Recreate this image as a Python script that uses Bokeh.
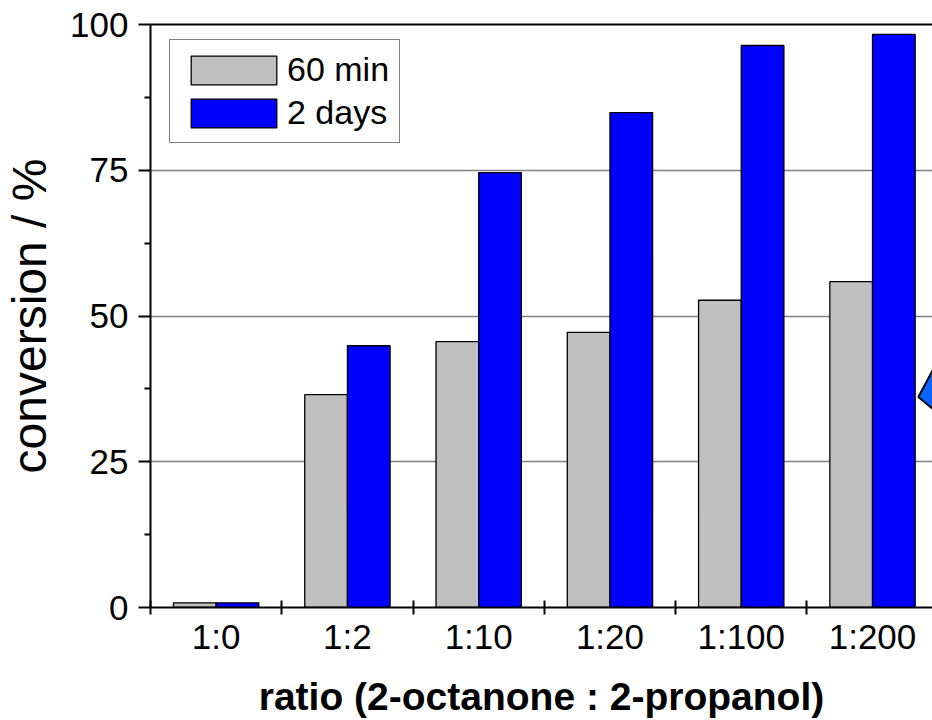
import numpy as np
from bokeh.plotting import figure
from bokeh.models import Range1d, FixedTicker, LinearAxis, Legend, LegendItem, Grid
from bokeh.embed import file_html
from bokeh.resources import INLINE

# ---- data ----
categories = ["1:0", "1:2", "1:10", "1:20", "1:100", "1:200"]
conv_60min = [0.8, 36.5, 45.6, 47.2, 52.7, 55.9]
conv_2days = [0.8, 44.9, 74.6, 84.9, 96.4, 98.3]
y_ticks = [0, 25, 50, 75, 100]
y_minor_ticks = [12.5, 37.5, 62.5, 87.5]
grid_values = [25, 50, 75]
series_names = ["60 min", "2 days"]
# partial arrow shape clipped at the right edge of the reference
arrow_x = [5.849, 6.056, 6.056]
arrow_y = [36.1, 44.8, 32.3]

FONT = "Liberation Sans"

p = figure(width=932, height=720,
           x_range=Range1d(0, 5.957), y_range=Range1d(0, 100),
           x_axis_type=None, y_axis_type=None,
           output_backend="svg", toolbar_location=None,
           min_border_left=148, min_border_right=0, min_border_top=24, min_border_bottom=112)
p.outline_line_color = None
p.background_fill_color = "white"

grid = Grid(dimension=1, ticker=FixedTicker(ticks=grid_values),
            grid_line_color="#7f7f7f", grid_line_width=1.3)
p.add_layout(grid)

centers = np.arange(len(categories)) + 0.5
w = 0.325
r1 = p.vbar(x=centers - w / 2, top=conv_60min, bottom=0, width=w,
            fill_color="#c0c0c0", line_color="black", line_width=1.3)
r2 = p.vbar(x=centers + w / 2, top=conv_2days, bottom=0, width=w,
            fill_color="#0000ff", line_color="black", line_width=1.3)

p.patch(arrow_x, arrow_y, fill_color="#0a64ff", line_color="black", line_width=2)

# y axis
yaxis = LinearAxis(ticker=FixedTicker(ticks=y_ticks, minor_ticks=y_minor_ticks),
                   axis_label="conversion / %")
yaxis.axis_line_width = 2
yaxis.major_tick_line_width = 2
yaxis.minor_tick_line_width = 2
yaxis.major_tick_in = 0
yaxis.major_tick_out = 12
yaxis.minor_tick_in = 0
yaxis.minor_tick_out = 6
yaxis.major_label_standoff = 10
yaxis.major_label_text_font = FONT
yaxis.major_label_text_font_size = "35px"
yaxis.major_label_text_color = "black"
yaxis.axis_label_text_font = FONT
yaxis.axis_label_text_font_size = "48px"
yaxis.axis_label_text_font_style = "normal"
yaxis.axis_label_text_color = "black"
yaxis.axis_label_standoff = 11
p.add_layout(yaxis, "left")

# x axis (ticks on category boundaries, labels at centres)
xaxis = LinearAxis(ticker=FixedTicker(ticks=list(centers),
                                      minor_ticks=list(range(len(categories) + 1))),
                   axis_label="ratio (2-octanone : 2-propanol)")
xaxis.major_label_overrides = {float(c): lab for c, lab in zip(centers, categories)}
xaxis.axis_line_width = 2
xaxis.major_tick_line_color = None
xaxis.major_tick_in = 0
xaxis.major_tick_out = 0
xaxis.minor_tick_line_width = 2
xaxis.minor_tick_in = 7
xaxis.minor_tick_out = 7
xaxis.major_label_standoff = 2
xaxis.major_label_text_font = FONT
xaxis.major_label_text_font_size = "35px"
xaxis.major_label_text_color = "black"
xaxis.axis_label_text_font = FONT
xaxis.axis_label_text_font_size = "39px"
xaxis.axis_label_text_font_style = "bold"
xaxis.axis_label_text_color = "black"
xaxis.axis_label_standoff = 16
p.add_layout(xaxis, "below")

# top frame line
top_axis = LinearAxis(ticker=FixedTicker(ticks=[]), axis_line_width=2,
                      major_tick_line_color=None, minor_tick_line_color=None,
                      major_label_text_font_size="0px")
p.add_layout(top_axis, "above")

legend = Legend(items=[LegendItem(label=series_names[0], renderers=[r1]),
                       LegendItem(label=series_names[1], renderers=[r2])],
                location=(19, 464), glyph_width=107, glyph_height=36,
                label_text_font=FONT, label_text_font_size="34px",
                label_text_color="black",
                label_standoff=0, spacing=4, padding=10, margin=0,
                border_line_color="black", border_line_width=1.5,
                background_fill_color="white", background_fill_alpha=1.0)
p.add_layout(legend)

open("out.html", "w").write(file_html(p, INLINE))
